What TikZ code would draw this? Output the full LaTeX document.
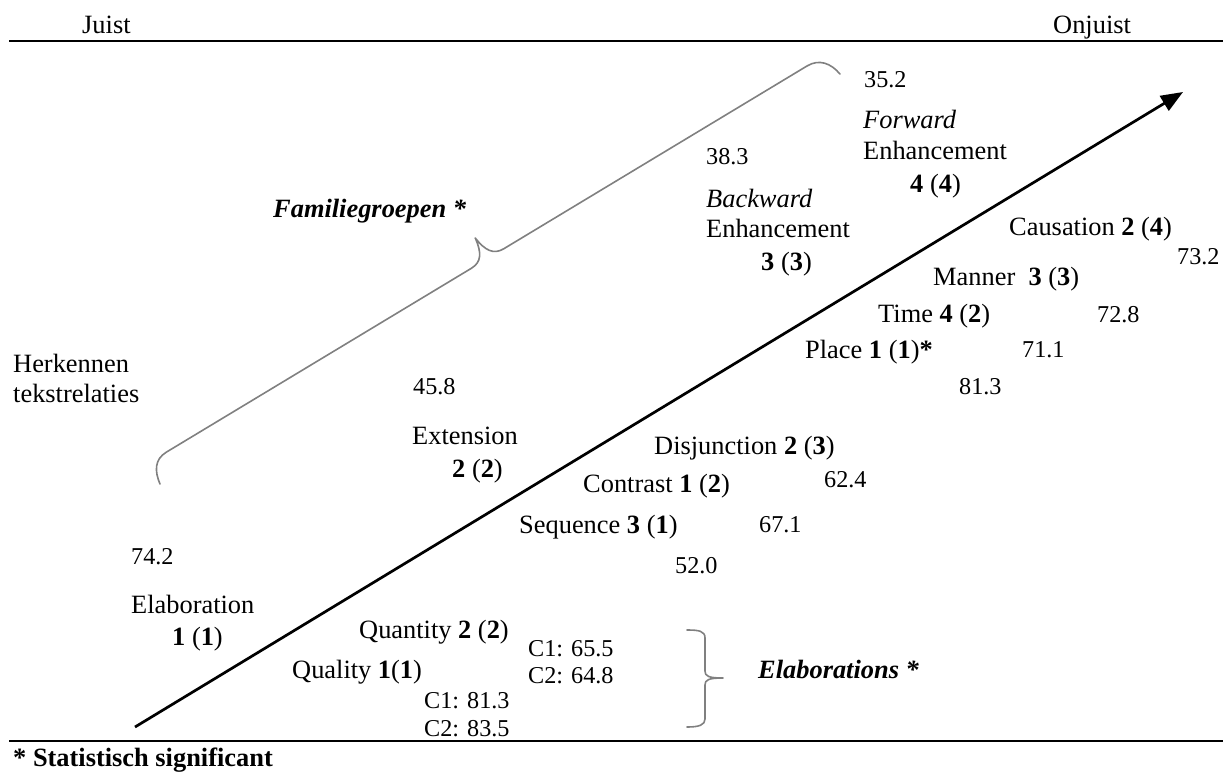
\documentclass[tikz,border=0pt]{standalone}
\usepackage{fontspec}
\setmainfont{Liberation Serif}
\usetikzlibrary{arrows.meta}
\tikzset{
  lbl/.style={anchor=base west, inner sep=0pt, font=\fontsize{26.4}{30}\selectfont},
  num/.style={anchor=base west, inner sep=0pt, font=\fontsize{24.2}{28}\selectfont},
  rule/.style={line width=2.5pt},
  mainarrow/.style={line width=2.7pt, -{Triangle[length=22pt,width=17pt]}},
  gbrace/.style={draw=gray, line width=1.6pt, line cap=round, line join=round},
}
\begin{document}
\begin{tikzpicture}[x=1pt,y=-1pt]
\useasboundingbox (0,0) rectangle (1223,771);
% rules
\coordinate (tl) at (9,41);
\coordinate (tr) at (1223,41);
\coordinate (bl) at (9,741);
\coordinate (br) at (1223,741);
\draw[rule] (tl) -- (tr);
\draw[rule] (bl) -- (br);
% header
\node[lbl] (juist) at (82,33) {Juist};
\node[lbl] (onjuist) at (1053,33) {Onjuist};
% main arrow
\coordinate (astart) at (135,727);
\coordinate (aend) at (1183,92);
\draw[mainarrow] (astart) -- (aend);
% big brace (Familiegroepen), drawn in a frame along the arrow direction
\coordinate (fb1) at (160,484);
\begin{scope}[shift={(fb1)}, rotate=31.08]
\draw[gbrace] (0,0) .. controls (2,-14) and (8,-24) .. (22,-24)
  -- (378,-24) .. controls (390,-24) and (395,-32) .. (397,-48)
  .. controls (399,-32) and (404,-24) .. (416,-24)
  -- (770,-24) .. controls (784,-24) and (792,-14) .. (794,0);
\end{scope}
% Elaborations brace
\coordinate (eb1) at (687,630);
\coordinate (eb2) at (687,727);
\coordinate (ebtip) at (723,678);
\draw[gbrace] (eb1) .. controls (699,630) and (705,631) .. (705,638)
  -- (705,671) .. controls (705,676) and (708,678) .. (ebtip)
  .. controls (708,678) and (705,680) .. (705,685)
  -- (705,719) .. controls (705,725) and (699,727) .. (eb2);
% left labels
\node[lbl] (herk1) at (13,372) {Herkennen};
\node[lbl] (herk2) at (13,402) {tekstrelaties};
\node[lbl] (fam) at (273,217) {\textbf{\textit{Familiegroepen *}}};
\node[lbl] (elabs) at (758,678) {\textbf{\textit{Elaborations *}}};
% Elaboration
\node[num] (n742) at (131,564) {74.2};
\node[lbl] (elab) at (131,613) {Elaboration};
\node[lbl] (elabr) at (172,645) {\textbf{1} (\textbf{1})};
% Extension
\node[num] (n458) at (413,394) {45.8};
\node[lbl] (ext) at (412,444) {Extension};
\node[lbl] (extr) at (452,477) {\textbf{2} (\textbf{2})};
% Backward
\node[num] (n383) at (706,164) {38.3};
\node[lbl] (bw1) at (706,207) {\textit{Backward}};
\node[lbl] (bw2) at (706,237) {Enhancement};
\node[lbl] (bw3) at (761,270) {\textbf{3} (\textbf{3})};
% Forward
\node[num] (n352) at (864,87) {35.2};
\node[lbl] (fw1) at (863,128) {\textit{Forward}};
\node[lbl] (fw2) at (863,159) {Enhancement};
\node[lbl] (fw3) at (910,192) {\textbf{4} (\textbf{4})};
% enhancement subtypes
\node[lbl] (caus) at (1009,235) {Causation \textbf{2} (\textbf{4})};
\node[num] (n732) at (1177,264) {73.2};
\node[lbl] (mann) at (933,285) {Manner\ \ \textbf{3} (\textbf{3})};
\node[lbl] (time) at (878,322) {Time \textbf{4} (\textbf{2})};
\node[num] (n728) at (1097,322) {72.8};
\node[lbl] (place) at (805,358) {Place \textbf{1} (\textbf{1})\textbf{*}};
\node[num] (n711) at (1022,357) {71.1};
\node[num] (n813a) at (959,394) {81.3};
% extension subtypes
\node[lbl] (disj) at (654,454) {Disjunction \textbf{2} (\textbf{3})};
\node[num] (n624) at (824,487) {62.4};
\node[lbl] (contr) at (583,492) {Contrast \textbf{1} (\textbf{2})};
\node[lbl] (seq) at (519,533) {Sequence \textbf{3} (\textbf{1})};
\node[num] (n671) at (759,532) {67.1};
\node[num] (n520) at (675,573) {52.0};
% elaboration subtypes
\node[lbl] (quant) at (359,638) {Quantity \textbf{2} (\textbf{2})};
\node[num] (c1a) at (528,656) {C1: 65.5};
\node[num] (c2a) at (528,683) {C2: 64.8};
\node[lbl] (qual) at (292,678) {Quality \textbf{1}(\textbf{1})};
\node[num] (c1b) at (424,708) {C1: 81.3};
\node[num] (c2b) at (424,736) {C2: 83.5};
% footnote
\node[lbl] (foot) at (13,766) {\textbf{* Statistisch significant}};
\end{tikzpicture}
\end{document}
